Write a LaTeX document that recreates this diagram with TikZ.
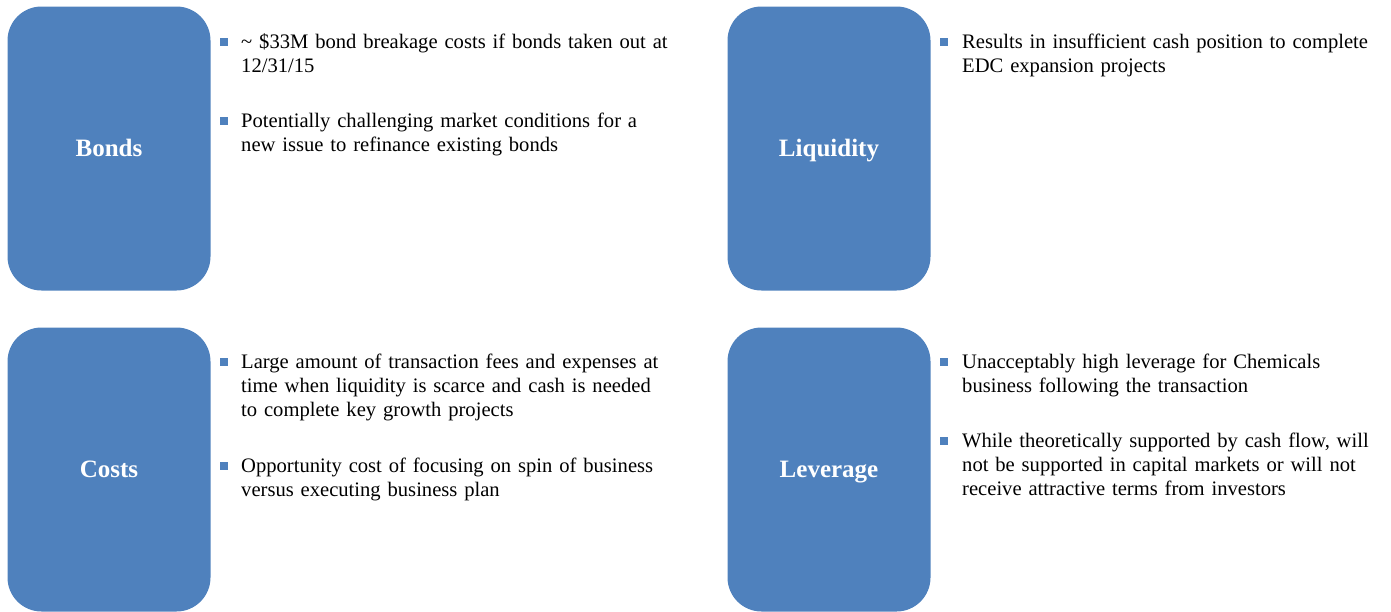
\documentclass[tikz,border=0pt]{standalone}
\usepackage{fontspec}
\setmainfont{Liberation Serif}
\definecolor{boxblue}{RGB}{79,129,189}
\tikzset{
  box/.style={fill=boxblue, draw=none, rounded corners=34pt, minimum width=203pt,
    minimum height=284pt, text=white, text height=16.5pt, text depth=0pt,
    font=\fontsize{25}{30}\selectfont\bfseries},
  sq/.style={fill=boxblue, draw=none, minimum size=8pt, inner sep=0pt},
  txt/.style={anchor=north west, inner sep=0pt, text width=450pt, align=left,
    font=\fontsize{20.6}{24}\selectfont}
}
\begin{document}
\begin{tikzpicture}[x=1pt,y=-1pt]
\useasboundingbox (0,0) rectangle (1391,611);

% boxes
\node (bonds)    [box] at (109,148.5) {Bonds};
\node (liquid)   [box] at (829,148.5) {Liquidity};
\node (costs)    [box] at (109,469.5) {Costs};
\node (leverage) [box] at (829,469.5) {Leverage};

% bonds
\node (sqa) [sq] at (224,42) {};
\node (ta) [txt] at (241,31.5) {\strut\textasciitilde\ \$33M bond breakage costs if bonds taken out at\\ 12/31/15};
\node (sqb) [sq] at (224,121) {};
\node (tb) [txt] at (241,110.5) {\strut Potentially challenging market conditions for a\\ new issue to refinance existing bonds};

% liquidity
\node (sqc) [sq] at (944,42) {};
\node (tc) [txt] at (962,31.5) {\strut Results in insufficient cash position to complete\\ EDC expansion projects};

% costs
\node (sqd) [sq] at (224,362) {};
\node (td) [txt] at (241,351.5) {\strut Large amount of transaction fees and expenses at\\ time when liquidity is scarce and cash is needed\\ to complete key growth projects};
\node (sqe) [sq] at (224,466) {};
\node (te) [txt] at (241,455.5) {\strut Opportunity cost of focusing on spin of business\\ versus executing business plan};

% leverage
\node (sqf) [sq] at (944,362) {};
\node (tf) [txt] at (962,351.5) {\strut Unacceptably high leverage for Chemicals\\ business following the transaction};
\node (sqg) [sq] at (944,441) {};
\node (tg) [txt] at (962,430.5) {\strut While theoretically supported by cash flow, will\\ not be supported in capital markets or will not\\ receive attractive terms from investors};
\end{tikzpicture}
\end{document}
